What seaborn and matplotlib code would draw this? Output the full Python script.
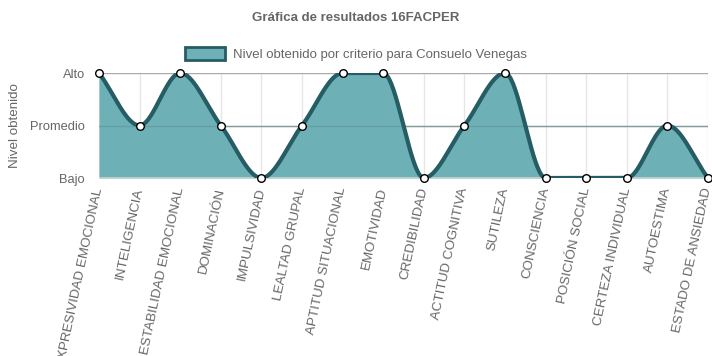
import numpy as np
import pandas as pd
import matplotlib
matplotlib.use("Agg")
import matplotlib.pyplot as plt
import seaborn as sns
from matplotlib.patches import Patch

categorias = ["EXPRESIVIDAD EMOCIONAL", "INTELIGENCIA", "ESTABILIDAD EMOCIONAL",
              "DOMINACIÓN", "IMPULSIVIDAD", "LEALTAD GRUPAL", "APTITUD SITUACIONAL",
              "EMOTIVIDAD", "CREDIBILIDAD", "ACTITUD COGNITIVA", "SUTILEZA",
              "CONSCIENCIA", "POSICIÓN SOCIAL", "CERTEZA INDIVIDUAL", "AUTOESTIMA",
              "ESTADO DE ANSIEDAD"]
# 0 = Bajo, 1 = Promedio, 2 = Alto
niveles = [2, 1, 2, 1, 0, 1, 2, 2, 0, 1, 2, 0, 0, 0, 1, 0]
etiquetas_y = ["Bajo", "Promedio", "Alto"]

titulo = "Gráfica de resultados 16FACPER"
serie = "Nivel obtenido por criterio para Consuelo Venegas"

relleno = "#6db1b6"
linea = "#265c64"
gris = "#666666"


def monotone(x, y, n=40):
    # interpolacion cubica monotona (como Chart.js cubicInterpolationMode='monotone')
    x = np.asarray(x, float)
    y = np.asarray(y, float)
    d = np.diff(y) / np.diff(x)
    m = np.zeros_like(y)
    m[0], m[-1] = d[0], d[-1]
    for i in range(1, len(y) - 1):
        if d[i - 1] * d[i] > 0:
            m[i] = (d[i - 1] + d[i]) / 2
    for i in range(len(d)):
        if d[i] == 0:
            m[i] = m[i + 1] = 0
            continue
        a, b = m[i] / d[i], m[i + 1] / d[i]
        s = a * a + b * b
        if s > 9:
            t = 3 / np.sqrt(s)
            m[i], m[i + 1] = t * a * d[i], t * b * d[i]
    xs, ys = [], []
    for i in range(len(d)):
        h = x[i + 1] - x[i]
        t = np.linspace(0, 1, n, endpoint=(i == len(d) - 1))
        h00 = 2 * t**3 - 3 * t**2 + 1
        h10 = t**3 - 2 * t**2 + t
        h01 = -2 * t**3 + 3 * t**2
        h11 = t**3 - t**2
        xs.append(x[i] + t * h)
        ys.append(h00 * y[i] + h10 * h * m[i] + h01 * y[i + 1] + h11 * h * m[i + 1])
    return np.concatenate(xs), np.concatenate(ys)


sns.set_style("white")
plt.rcParams["font.family"] = ["Liberation Sans", "DejaVu Sans"]

pos = np.arange(len(categorias))
cx, cy = monotone(pos, niveles)
curva = pd.DataFrame({"x": cx, "y": cy})
puntos = pd.DataFrame({"x": pos, "y": niveles})

fig = plt.figure(figsize=(7.12, 3.56), dpi=100)
ax = fig.add_axes([99 / 712, 1 - 178 / 356, 609 / 712, 105 / 356])

for p in pos:
    ax.axvline(p, color="#e6e6e6", lw=1, zorder=0)
ax.axhline(1, color="#aaaaaa", lw=1, zorder=0)
ax.axhline(2, color="#aaaaaa", lw=1, zorder=0)

ax.fill_between(cx, 0, cy, color=relleno, alpha=1, lw=0, zorder=1)
ax.axhline(1, color="#5f8f93", lw=1, alpha=0.5, zorder=1.5)
sns.lineplot(data=curva, x="x", y="y", ax=ax, color=linea, lw=3, zorder=2,
             sort=False, estimator=None)
ax.axhline(0, color="#cccccc", lw=2, zorder=1.8)
sns.scatterplot(data=puntos, x="x", y="y", ax=ax, color="white", edgecolor="black",
                linewidth=1, s=30, zorder=3, clip_on=False)

ax.set_xlim(0, len(categorias) - 1)
ax.set_ylim(0, 2)
ax.set_yticks([0, 1, 2])
ax.set_yticklabels(etiquetas_y, color=gris, fontsize=9.3)
ax.set_xticks(pos)
ax.set_xticklabels(categorias, rotation=78, ha="right", va="center",
                   rotation_mode="anchor", color=gris, fontsize=9.6)
ax.tick_params(axis="y", length=8, color="#bbbbbb", pad=2)
ax.tick_params(axis="x", length=7, color="#e6e6e6", pad=0)
for s in ax.spines.values():
    s.set_visible(False)
ax.set_xlabel("")
ax.set_ylabel("Nivel obtenido", color=gris, fontsize=9.6)
ax.yaxis.set_label_coords(-0.128, 0.5)

fig.text(0.5, 1 - 18 / 356, titulo, ha="center", va="center", fontsize=9.5,
         fontweight="bold", color=gris)
leg = fig.legend(handles=[Patch(facecolor=relleno, edgecolor=linea, lw=2, label=serie)],
                 loc="center", bbox_to_anchor=(0.5, 1 - 54 / 356), frameon=False,
                 fontsize=9.5, handlelength=3.0, handleheight=1.1, handletextpad=0.6)
for t in leg.get_texts():
    t.set_color(gris)

fig.savefig("out.png", dpi=100)
